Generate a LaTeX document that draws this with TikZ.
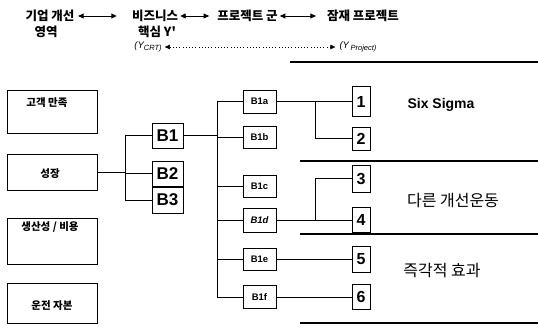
\documentclass[tikz,border=0pt]{standalone}
\usepackage{fontspec}
\setmainfont{Liberation Sans}
\newfontfamily\kr{Noto Sans CJK KR}
\usetikzlibrary{arrows.meta}
\begin{document}
\begin{tikzpicture}[x=1pt,y=-1pt,
  box/.style={draw, line width=0.9pt, inner sep=0pt},
  lbox/.style={box, minimum width=90pt},
  bbig/.style={box, minimum width=31pt, minimum height=25pt, font=\bfseries\fontsize{17}{17}\selectfont},
  bsmall/.style={box, minimum width=33pt, minimum height=22pt, font=\bfseries\fontsize{9.5}{10}\selectfont},
  nbox/.style={box, minimum width=18pt, font=\bfseries\fontsize{16}{16}\selectfont},
  conn/.style={line width=0.7pt},
  sep/.style={line width=1.8pt},
  hdr/.style={font=\kr\bfseries\fontsize{12.5}{14}\selectfont, inner sep=0pt},
  lbl/.style={font=\kr\bfseries\fontsize{10.5}{12}\selectfont, inner sep=0pt},
  rlbl/.style={font=\kr\fontsize{16}{18}\selectfont, inner sep=0pt},
  ylbl/.style={font=\itshape\fontsize{9.5}{10}\selectfont, inner sep=0pt},
  harrow/.style={line width=0.9pt, {Triangle[length=5.5pt,width=5pt]}-{Triangle[length=5.5pt,width=5pt]}},
  darrow/.style={line width=0.5pt, dash pattern=on 1pt off 2.2pt, {Triangle[length=5pt,width=4.5pt]}-{Triangle[length=5pt,width=4.5pt]}}
]
\useasboundingbox (0,0) rectangle (538,327);

% header
\node[hdr] (h1) at (50,16) {기업 개선};
\node[hdr] (h1b) at (46,32) {영역};
\node[hdr] (h2) at (155,16) {비즈니스};
\node[hdr] (h2b) at (157,32) {핵심 Y'};
\node[hdr] (h3) at (247.5,16) {프로젝트 군};
\node[hdr] (h4) at (363,16) {잠재 프로젝트};
\draw[harrow] ([xshift=3.5pt]h1.east) -- ([xshift=-15pt]h2.west);
\draw[harrow] ([xshift=2pt]h2.east) -- ([xshift=-8pt]h3.west);
\draw[harrow] ([xshift=2pt]h3.east) -- ([xshift=-11pt]h4.west);
\node[ylbl] (yc) at (148,47) {(Y\raisebox{-2pt}{\fontsize{7.5}{8}\selectfont CRT)}};
\node[ylbl] (yp) at (358,47) {(Y\,\raisebox{-2pt}{\fontsize{7.5}{8}\selectfont Project)}};
\draw[darrow] ([xshift=3pt]yc.east) -- ([xshift=-4pt]yp.west);

% separators
\coordinate (s0a) at (290,62); \coordinate (s0b) at (538,62);
\coordinate (s1a) at (300,161); \coordinate (s1b) at (538,161);
\coordinate (s2a) at (300,234); \coordinate (s2b) at (538,234);
\coordinate (s3a) at (300,323); \coordinate (s3b) at (538,323);
\draw[line width=1.4pt] (s0a) -- (s0b);
\draw[sep] (s1a) -- (s1b);
\draw[sep] (s2a) -- (s2b);
\draw[sep] (s3a) -- (s3b);

% left boxes
\node[lbox, minimum height=43pt] (L1) at (52,111.5) {};
\node[lbl] (L1t) at (47,103) {고객 만족};
\node[lbox, minimum height=36pt] (L2) at (52,172) {};
\node[lbl] (L2t) at (50,174) {성장};
\node[lbox, minimum height=46pt] (L3) at (52,241) {};
\node[lbl] (L3t) at (50,227) {생산성 / 비용};
\node[lbox, minimum height=40pt] (L4) at (52,303) {};
\node[lbl] (L4t) at (52,306) {운전 자본};

% B boxes
\node[bbig] (B1) at (167.5,135.5) {B1};
\node[bbig] (B2) at (167.5,173.5) {B2};
\node[bbig, minimum height=26pt] (B3) at (167.5,200) {B3};

\coordinate (j1) at (125,172);
\draw[conn] (L2.east) -- (L2.east -| j1);
\draw[conn] (B1.west) -- (B1.west -| j1) -- (B3.west -| j1) -- (B3.west);
\draw[conn] (B2.west -| j1) -- (B2.west);

% B1x boxes
\node[bsmall, minimum height=23pt] (B1a) at (259.5,101.5) {B1a};
\node[bsmall] (B1b) at (259.5,137) {B1b};
\node[bsmall] (B1c) at (259.5,186.5) {B1c};
\node[bsmall, minimum height=24pt, font=\bfseries\itshape\fontsize{9.5}{10}\selectfont] (B1d) at (259.5,220) {B1d};
\node[bsmall] (B1e) at (259.5,259.5) {B1e};
\node[bsmall, minimum height=23pt] (B1f) at (259.5,297) {B1f};

\coordinate (j2) at (217,136);
\draw[conn] (B1.east) -- (B1.east -| j2);
\draw[conn] (B1a.west) -- (B1a.west -| j2) -- (B1f.west -| j2) -- (B1f.west);
\foreach \n in {B1b,B1c,B1d,B1e} \draw[conn] (\n.west -| j2) -- (\n.west);

% number boxes
\node[nbox, minimum height=30pt] (n1) at (361,101.5) {1};
\node[nbox, minimum height=23pt] (n2) at (361,138.5) {2};
\node[nbox, minimum height=27pt] (n3) at (361,178.5) {3};
\node[nbox, minimum height=25pt] (n4) at (361,220) {4};
\node[nbox, minimum height=26pt] (n5) at (361,259.5) {5};
\node[nbox, minimum height=25pt] (n6) at (361,297) {6};

\coordinate (j3) at (315,120);
\draw[conn] (B1a.east) -- (n1.west);
\draw[conn] (B1a.east -| j3) -- (n2.west -| j3) -- (n2.west);
\draw[conn] (B1d.east) -- (n4.west);
\draw[conn] (B1d.east -| j3) -- (n3.west -| j3) -- (n3.west);
\draw[conn] (B1e.east) -- (n5.west);
\draw[conn] (B1f.east) -- (n6.west);

% right labels
\node[font=\bfseries\fontsize{14}{16}\selectfont, inner sep=0pt] (ss) at (441,105) {Six Sigma};
\node[rlbl] (r2) at (453,201) {다른 개선운동};
\node[rlbl] (r3) at (442,271) {즉각적 효과};
\end{tikzpicture}
\end{document}
